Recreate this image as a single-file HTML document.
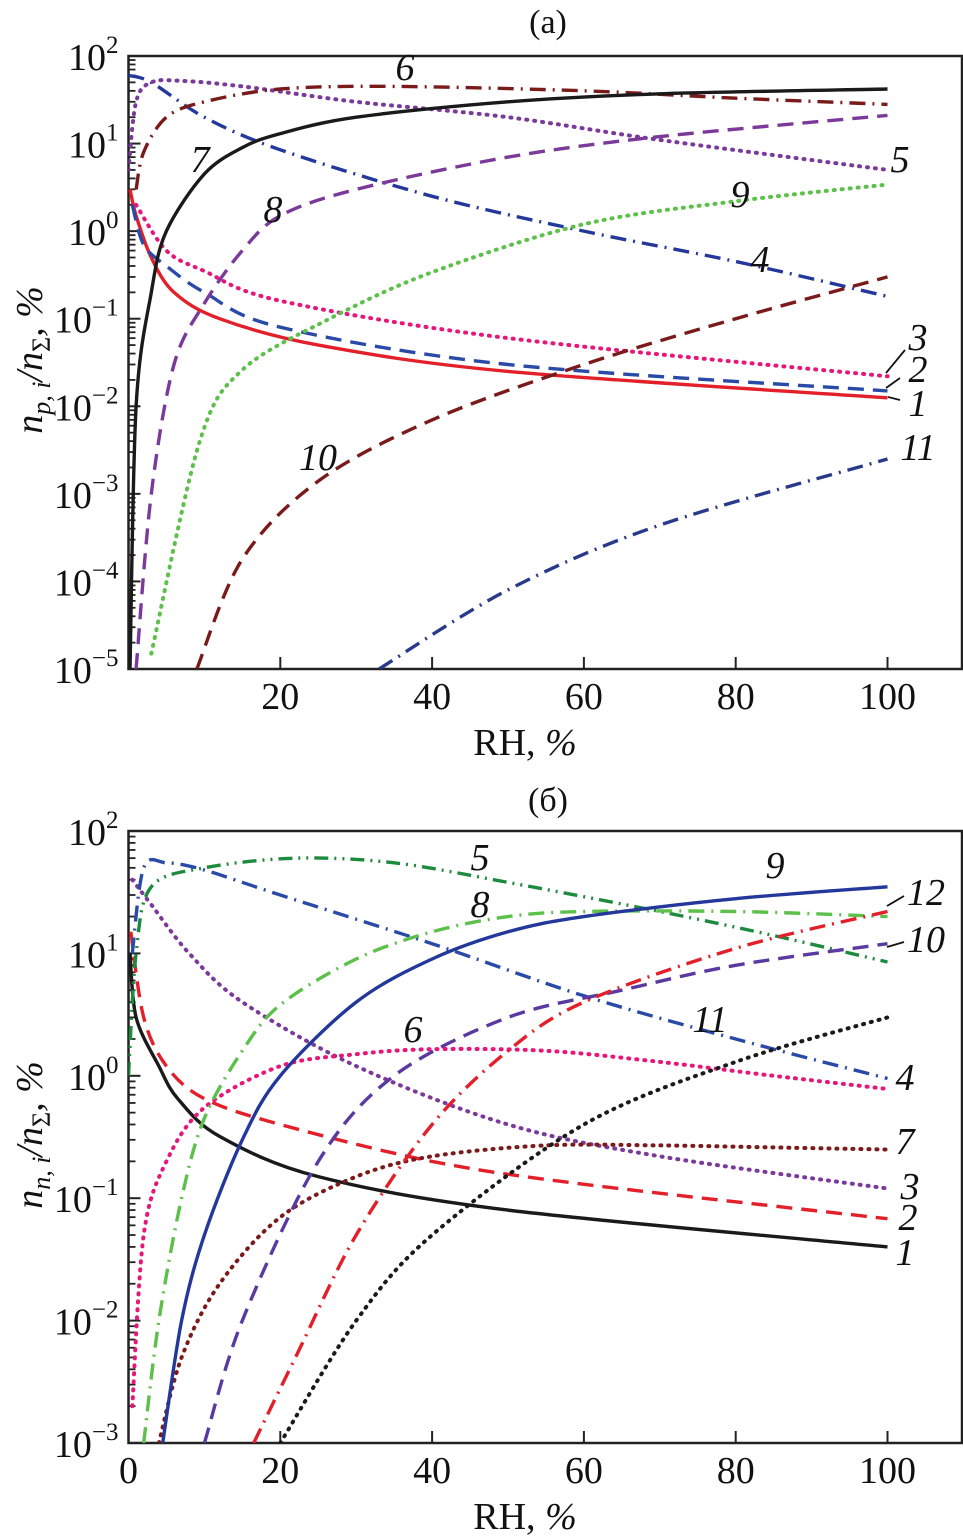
<!DOCTYPE html>
<html><head><meta charset="utf-8"><style>
html,body{margin:0;padding:0;background:#fff;}
svg{display:block;}
svg text{font-family:"Liberation Serif","Times New Roman",serif;}
</style></head><body>
<svg id="c" width="963" height="1538" viewBox="0 0 963 1538" xmlns="http://www.w3.org/2000/svg"></svg>
<script>
// ---- Panel (a) data: RH values and percentages ----
const a1x=[0.2,1,3,6,12,25,50,100], a1y=[3,1.5,0.5,0.2,0.1,0.05,0.025,0.0125];
const a2x=[0.5,2,5,10,20,50,100], a2y=[2,0.7,0.4,0.2,0.08,0.03,0.015];
const a3x=[1,5,10,20,50,100], a3y=[2,0.6,0.35,0.16,0.06,0.022];
const a4x=[0,3,10,20,40,60,80,100], a4y=[60,50,20,8.5,2.5,1,0.45,0.18];
const a5x=[0,1,3,7,15,30,50,70,100], a5y=[5,30,50,52,45,30,20,11,5];
const a6x=[1,2,5,10,20,35,60,80,100], a6y=[3,8,20,30,42,45,40,33,28];
const a7x=[0.2,1,3,5,10,15,20,30,50,70,100], a7y=[1e-5,0.01,0.2,1,4.5,9,13,20,30,37,42];
const a8x=[1,3,6,10,15,20,30,50,70,100], a8y=[1e-5,1e-3,0.03,0.15,0.6,1.5,3,7,12,21];
const a9x=[3,9.4,15,26.5,40,60,80,100], a9y=[1.5e-5,4e-3,0.026,0.1,0.34,1.2,2.2,3.4];
const a10x=[9,15,25,40,60,80,100], a10y=[1e-5,1.8e-4,1.4e-3,7e-3,0.03,0.1,0.3];
const a11x=[33,50,70,100], a11y=[1e-5,8e-5,4.4e-4,2.5e-3];
// ---- Panel (b) data ----
const b1x=[0.2,1,4,6.5,12,25,50,100], b1y=[10,3,1.2,0.65,0.32,0.15,0.08,0.04];
const b2x=[0.3,2,5,10,20,40,60,100], b2y=[15,3,1.2,0.65,0.4,0.2,0.13,0.068];
const b3x=[0.5,3,8,15,30,50,70,100], b3y=[40,25,10,4,1.2,0.4,0.22,0.12];
const b4x=[0.5,2,5,10,20,40,60,80,100], b4y=[10,50,55,48,30,12,4.5,2,0.95];
const b5x=[0,1,3,10,22,35,50,70,85,100], b5y=[1,10,35,50,60,55,38,22,14,8.5];
const b6x=[0.5,2,5,10,20,30,40,55,70,85,100], b6y=[0.002,0.05,0.2,0.55,1.2,1.5,1.65,1.6,1.3,1,0.78];
const b7x=[4,7,12,20,30,40,55,70,85,100], b7y=[0.001,0.005,0.02,0.07,0.15,0.22,0.27,0.27,0.26,0.25];
const b8x=[2,4,7,10,15,20,30,40,50,60,80,100], b8y=[0.001,0.01,0.1,0.45,1.6,3.8,9,15,20,22,22,20];
const b9x=[4.5,7,10,15,20,30,40,50,60,80,100], b9y=[0.001,0.01,0.05,0.3,1,4,9,15,20,28,35];
const b10x=[10,15,25,35,50,65,80,100], b10y=[0.001,0.01,0.2,1,3,5,8,12];
const b11x=[16.5,22,30,40,50,60,80,100], b11y=[0.001,0.005,0.05,0.4,1.6,4,11,22];
const b12x=[20,30,40,60,80,100], b12y=[0.001,0.01,0.05,0.4,1.3,3];
const xTicks=[20,40,60,80,100];

const NS="http://www.w3.org/2000/svg";
const svg=document.getElementById('c');
function mk(t,attrs,parent){const e=document.createElementNS(NS,t);for(const k in attrs)e.setAttribute(k,attrs[k]);if(t==='text')e.setAttribute('font-family','Liberation Serif, Times New Roman, serif');(parent||svg).appendChild(e);return e;}

const X0=128.5, XS=7.59, XR=962;
function panel(top,bottom,minExp,maxExp){
  return {top,bottom,minExp,maxExp,
    x:v=>X0+v*XS,
    y:v=>{let l=Math.log10(Math.max(v,Math.pow(10,minExp-0.3)));return top+(maxExp-l)*(bottom-top)/(maxExp-minExp);}};
}
const PA=panel(56,669,-5,2), PB=panel(831,1443,-3,2);

function drawAxes(P,title,ttlY,name){
  const g=mk('g',{});
  
  
  const f=mk('rect',{x:X0,y:P.top,width:XR-X0,height:P.bottom-P.top,fill:'none',stroke:'#222','stroke-width':2.5},g);
  
  
  for(let e=P.minExp;e<=P.maxExp;e++){
    const y=P.y(Math.pow(10,e));
    const tk=mk('line',{x1:X0,x2:X0+12,y1:y,y2:y,stroke:'#222','stroke-width':2},g);
    
    
    const t=mk('text',{x:X0-10,y:y+14,'text-anchor':'end','font-size':38,fill:'#111'},g);
    
    
    t.textContent='10';
    const s=mk('tspan',{dy:-17,'font-size':25},t);s.textContent=String(e).replace('-','\u2212');
    if(e<P.maxExp){for(let m=2;m<=9;m++){const yy=P.y(m*Math.pow(10,e));
      const mt=mk('line',{x1:X0,x2:X0+7,y1:yy,y2:yy,stroke:'#222','stroke-width':1.8},g);
      
      }}
  }
  xTicks.forEach(v=>{const x=P.x(v);
    const tk=mk('line',{x1:x,x2:x,y1:P.bottom,y2:P.bottom-12,stroke:'#222','stroke-width':2},g);
    
    
    const t=mk('text',{x:x,y:P.bottom+40,'text-anchor':'middle','font-size':38,fill:'#111'},g);
    
    
    t.textContent=v;});
  const zt=mk('text',{x:X0,y:P.bottom+40,'text-anchor':'middle','font-size':38,fill:'#111'},g);
  
  
  zt.textContent=(name==='panel-b')?'0':'';
  const xt=mk('text',{x:525,y:P.bottom+86,'text-anchor':'middle','font-size':38,fill:'#111'},g);
  
  
  xt.textContent='RH, ';
  const pc=mk('tspan',{'font-style':'italic'},xt);pc.textContent='%';
  const pt=mk('text',{x:548,y:ttlY,'text-anchor':'middle','font-size':34,fill:'#111'},g);
  
  
  pt.textContent=title;
}
drawAxes(PA,'(a)',33,'panel-a');
drawAxes(PB,'(б)',811,'panel-b');

function ytitle(cy,sub,name){
  const t=mk('text',{x:0,y:0,transform:`translate(42,${cy}) rotate(-90)`,'text-anchor':'middle','font-size':38,'font-style':'italic',fill:'#111'});
  
  
  const a=mk('tspan',{},t);a.textContent='n';
  const b=mk('tspan',{dy:8,'font-size':26},t);b.textContent=sub;
  const c=mk('tspan',{dy:-8},t);c.textContent='/n';
  const d=mk('tspan',{dy:8,'font-size':26,'font-style':'normal'},t);d.textContent='\u03A3';
  const e=mk('tspan',{dy:-8},t);e.textContent=', %';
}
ytitle(360,'p, i','y-axis-title-a');
ytitle(1135,'n, i','y-axis-title-b');

const DS={solid:'',dash:'16 9',dot:'1 7',dashdot:'16 7 2 7',dashdotdot:'14 6 2 6 2 6'};
function series(P,xs,ys,color,style,name){
  const pts=xs.map((v,i)=>[P.x(v),P.y(ys[i])]);
  let d='M'+pts[0][0].toFixed(1)+','+pts[0][1].toFixed(1);
  for(let i=0;i<pts.length-1;i++){
    const p0=pts[Math.max(0,i-1)],p1=pts[i],p2=pts[i+1],p3=pts[Math.min(pts.length-1,i+2)];
    const t=0.16;
    const c1=[p1[0]+(p2[0]-p0[0])*t,p1[1]+(p2[1]-p0[1])*t];
    const c2=[p2[0]-(p3[0]-p1[0])*t,p2[1]-(p3[1]-p1[1])*t];
    d+='C'+c1[0].toFixed(1)+','+c1[1].toFixed(1)+' '+c2[0].toFixed(1)+','+c2[1].toFixed(1)+' '+p2[0].toFixed(1)+','+p2[1].toFixed(1);
  }
  const p=mk('path',{d:d,fill:'none',stroke:color,'stroke-width':style==='dot'?4:3.4,'stroke-dasharray':DS[style],'stroke-linecap':style==='dot'?'round':'butt','stroke-linejoin':'round','clip-path':'url(#clip'+(P===PA?'A':'B')+')'});
  
  
}
const defs=mk('defs',{});
const cA=mk('clipPath',{id:'clipA'},defs);mk('rect',{x:X0,y:PA.top,width:XR-X0,height:PA.bottom-PA.top},cA);
const cB=mk('clipPath',{id:'clipB'},defs);mk('rect',{x:X0,y:PB.top,width:XR-X0,height:PB.bottom-PB.top},cB);

series(PA,a1x,a1y,'#e3202a','solid','a-series-1');
series(PA,a2x,a2y,'#2a4aa8','dash','a-series-2');
series(PA,a3x,a3y,'#e5177a','dot','a-series-3');
series(PA,a4x,a4y,'#23389a','dashdot','a-series-4');
series(PA,a5x,a5y,'#7b3a9a','dot','a-series-5');
series(PA,a6x,a6y,'#7a1a1a','dashdot','a-series-6');
series(PA,a7x,a7y,'#1a1a1a','solid','a-series-7');
series(PA,a8x,a8y,'#7b3a9a','dash','a-series-8');
series(PA,a9x,a9y,'#5cc04a','dot','a-series-9');
series(PA,a10x,a10y,'#7a1a1a','dash','a-series-10');
series(PA,a11x,a11y,'#2a3a8a','dashdot','a-series-11');

series(PB,b1x,b1y,'#1a1a1a','solid','b-series-1');
series(PB,b2x,b2y,'#e3202a','dash','b-series-2');
series(PB,b3x,b3y,'#7b3a9a','dot','b-series-3');
series(PB,b4x,b4y,'#2a4aa8','dashdot','b-series-4');
series(PB,b5x,b5y,'#1e8a3e','dashdotdot','b-series-5');
series(PB,b6x,b6y,'#e5177a','dot','b-series-6');
series(PB,b7x,b7y,'#7a1a1a','dot','b-series-7');
series(PB,b8x,b8y,'#5cc04a','dashdot','b-series-8');
series(PB,b9x,b9y,'#23389a','solid','b-series-9');
series(PB,b10x,b10y,'#5a3aa0','dash','b-series-10');
series(PB,b11x,b11y,'#e3202a','dashdot','b-series-11');
series(PB,b12x,b12y,'#1a1a1a','dot','b-series-12');

function lab(x,y,s,name){const t=mk('text',{x:x,y:y,'text-anchor':'middle','font-size':38,'font-style':'italic',fill:'#111'});
  
  
  t.textContent=s;}
[[405,80,'6'],[200,172,'7'],[273,222,'8'],[900,172,'5'],[740,207,'9'],[760,272,'4'],[918,350,'3'],[918,382,'2'],[918,416,'1'],[318,470,'10'],[918,460,'11']]
  .forEach(l=>lab(l[0],l[1],l[2],'a-label-'+l[2]));
[[480,870,'5'],[775,878,'9'],[480,917,'8'],[926,905,'12'],[926,952,'10'],[710,1032,'11'],[413,1042,'6'],[905,1090,'4'],[905,1154,'7'],[910,1199,'3'],[908,1230,'2'],[905,1265,'1']]
  .forEach(l=>lab(l[0],l[1],l[2],'b-label-'+l[2]));
function arrow(x1,y1,x2,y2,name){const p=mk('line',{x1,y1,x2,y2,stroke:'#111','stroke-width':1.8});
  
  }
arrow(905,350,886,373,'a-arrow-3');arrow(900,378,886,388,'a-arrow-2');arrow(900,400,888,397,'a-arrow-1');
arrow(904,896,887,906,'b-arrow-12');arrow(904,942,887,947,'b-arrow-10');
</script>
</body></html>
